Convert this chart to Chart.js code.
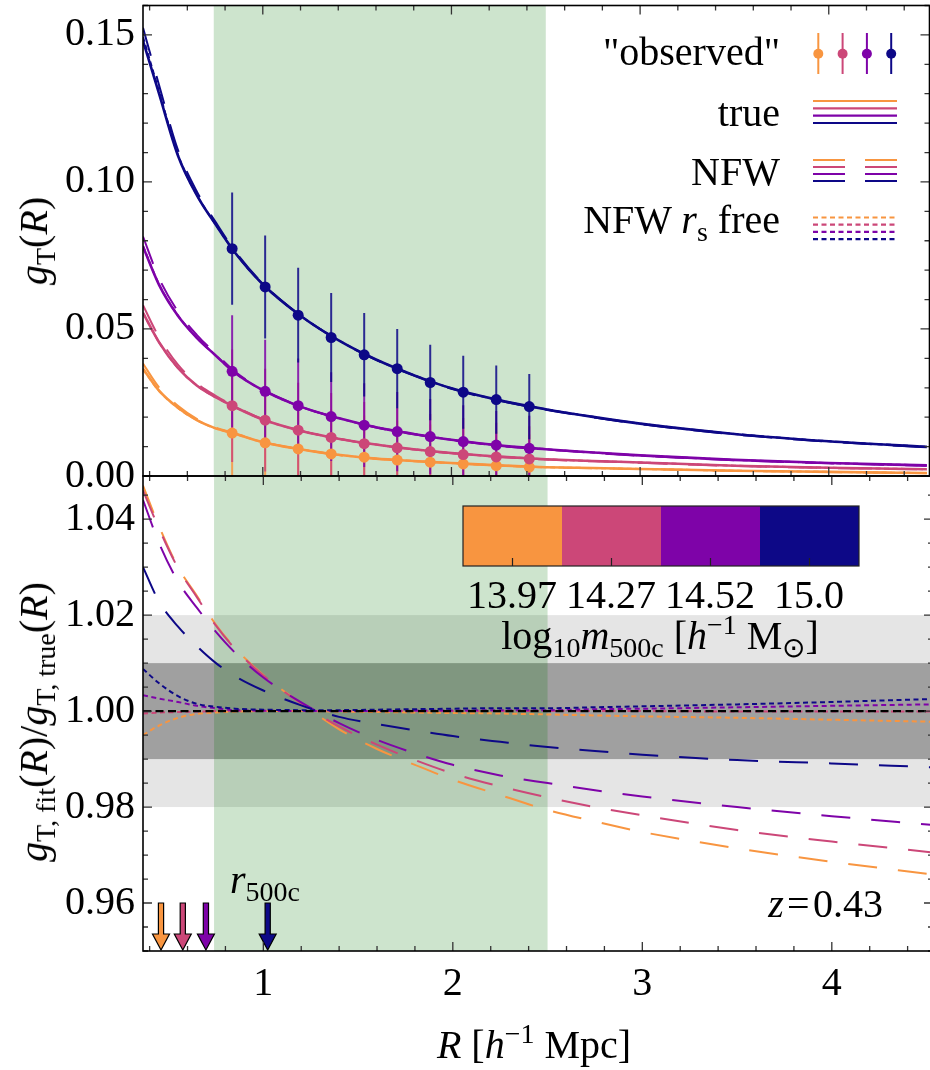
<!DOCTYPE html>
<html>
<head>
<meta charset="utf-8">
<script src="https://cdn.jsdelivr.net/npm/chart.js@4.4.1/dist/chart.umd.min.js"></script>
<style>
html, body { margin: 0; padding: 0; background: #fff; overflow: hidden; }
#wrap { position: relative; width: 930px; height: 1070px; overflow: hidden; }
canvas { position: absolute; left: 0; }
#cTop { top: 0; }
#cBot { top: 470px; }
.t { position: absolute; font-family: "Liberation Serif", "Times New Roman", serif; font-size: 40px;
     line-height: 1; white-space: nowrap; color: #000; z-index: 5; }
.sb { font-size: 0.7em; position: relative; top: 0.3em; }
.sp { font-size: 0.7em; position: relative; top: -0.55em; }
.rot { transform: translate(-50%, -50%) rotate(-90deg); }
.cx { transform: translateX(-50%); }
</style>
</head>
<body>
<div id="wrap">
  <canvas id="cTop" width="935" height="500"></canvas>
  <canvas id="cBot" width="935" height="600"></canvas>

  <div class="t" style="right:150px; top:32px">"observed"</div>
  <div class="t" style="right:150px; top:93px">true</div>
  <div class="t" style="right:150px; top:152px">NFW</div>
  <div class="t" style="right:150px; top:200px">NFW <i>r</i><span class="sb">s</span> free</div>

  <div class="t rot" style="left:34px; top:241px"><i>g</i><span class="sb">T</span>(<i>R</i>)</div>
  <div class="t rot" style="left:34px; top:722px"><i>g</i><span class="sb">T, fit</span>(<i>R</i>)/<i>g</i><span class="sb">T, true</span>(<i>R</i>)</div>
  <div class="t cx" style="left:534px; top:1025px"><i>R</i> [<i>h</i><span class="sp">&minus;1</span> Mpc]</div>

  <div class="t cx" id="cb0" style="left:512px; top:575px"></div>
  <div class="t cx" id="cb1" style="left:611px; top:575px"></div>
  <div class="t cx" id="cb2" style="left:710px; top:575px"></div>
  <div class="t cx" id="cb3" style="left:809px; top:575px"></div>
  <div class="t cx" style="left:660px; top:616px">log<span class="sb">10</span><i>m</i><span class="sb">500c</span> [<i>h</i><span class="sp">&minus;1</span> M<span class="sb">&#8857;</span>]</div>

  <div class="t" style="right:47px; top:884px"><i>z</i>&#8202;=&#8202;0.43</div>
  <div class="t" style="left:230px; top:860px"><i>r</i><span class="sb">500c</span></div>
</div>
<script>
// --- data ---
const massLabels = ['13.97', '14.27', '14.52', '15.0'];
const massColors = ['#f89540', '#cc4778', '#7e03a8', '#0d0887'];

const rGrid = [0.365, 0.45, 0.55, 0.65, 0.75, 0.85, 1.0, 1.2, 1.4, 1.6, 1.8, 2.0, 2.25, 2.5, 2.75, 3.0, 3.5, 4.0, 4.52];

// true g_T(R)
const gTrueOrange = [0.0365, 0.0290, 0.0232, 0.0190, 0.0162, 0.0144, 0.0115, 0.0091, 0.0072, 0.0059, 0.0051, 0.0044, 0.0036, 0.0030, 0.0027, 0.0024, 0.0018, 0.0014, 0.0010];
const gTruePink   = [0.0555, 0.0455, 0.0368, 0.0308, 0.0268, 0.0235, 0.0192, 0.0154, 0.0127, 0.0107, 0.0091, 0.0078, 0.0066, 0.0057, 0.0051, 0.0046, 0.0035, 0.0028, 0.0023];
const gTruePurple = [0.0780, 0.0650, 0.0545, 0.0470, 0.0410, 0.0352, 0.0292, 0.0236, 0.0197, 0.0166, 0.0143, 0.0123, 0.0104, 0.0091, 0.0080, 0.0070, 0.0055, 0.0044, 0.0036];
const gTrueNavy   = [0.1480, 0.1300, 0.1090, 0.0955, 0.0855, 0.0762, 0.0652, 0.0545, 0.0462, 0.0396, 0.0343, 0.0298, 0.0258, 0.0227, 0.0201, 0.0178, 0.0143, 0.0118, 0.0099];

// ratio NFW fit / true
const ratioNfwOrange = [1.0470, 1.0385, 1.0300, 1.0240, 1.0180, 1.0132, 1.0075, 1.0016, 0.9962, 0.9921, 0.9888, 0.9857, 0.9825, 0.9794, 0.9770, 0.9748, 0.9714, 0.9686, 0.9660];
const ratioNfwPink   = [1.0460, 1.0380, 1.0298, 1.0237, 1.0178, 1.0130, 1.0074, 1.0016, 0.9968, 0.9930, 0.9898, 0.9870, 0.9843, 0.9820, 0.9800, 0.9783, 0.9752, 0.9728, 0.9706];
const ratioNfwPurple = [1.0440, 1.0350, 1.0270, 1.0215, 1.0165, 1.0122, 1.0070, 1.0018, 0.9975, 0.9940, 0.9912, 0.9888, 0.9866, 0.9850, 0.9835, 0.9822, 0.9800, 0.9781, 0.9763];
const ratioNfwNavy   = [1.0300, 1.0228, 1.0176, 1.0135, 1.0100, 1.0073, 1.0043, 1.0012, 0.9988, 0.9973, 0.9960, 0.9948, 0.9936, 0.9925, 0.9917, 0.9909, 0.9898, 0.9891, 0.9883];

// ratio NFW (r_s free) fit / true
const ratioFreeOrange = [0.9950, 0.9970, 0.9986, 0.9994, 0.9997, 0.9999, 1.0000, 1.0000, 0.9999, 0.9998, 0.9997, 0.9996, 0.9995, 0.9993, 0.9991, 0.9989, 0.9986, 0.9982, 0.9978];
const ratioFreePink   = [0.9995, 0.9997, 0.9998, 0.9999, 1.0000, 1.0000, 1.0000, 1.0000, 1.0000, 1.0000, 1.0000, 1.0000, 1.0000, 1.0000, 1.0000, 1.0000, 0.9999, 0.9999, 0.9999];
const ratioFreePurple = [1.0033, 1.0026, 1.0019, 1.0011, 1.0006, 1.0002, 1.0001, 1.0000, 1.0000, 1.0000, 1.0001, 1.0001, 1.0002, 1.0002, 1.0004, 1.0005, 1.0008, 1.0011, 1.0014];
const ratioFreeNavy   = [1.0088, 1.0058, 1.0031, 1.0015, 1.0009, 1.0005, 1.0003, 1.0002, 1.0002, 1.0003, 1.0004, 1.0005, 1.0006, 1.0006, 1.0008, 1.0010, 1.0014, 1.0019, 1.0025];

// "observed" stacked profiles
const obsR      = [0.8375, 1.0125, 1.1875, 1.3625, 1.5375, 1.7125, 1.8875, 2.0625, 2.2375, 2.4125];
const obsOrange = [0.0146, 0.0113, 0.0092, 0.0075, 0.0064, 0.0054, 0.0047, 0.0041, 0.0035, 0.0030];
const obsPink   = [0.0239, 0.0190, 0.0156, 0.0131, 0.0110, 0.0096, 0.0083, 0.0073, 0.0065, 0.0058];
const obsPurple = [0.0356, 0.0288, 0.0239, 0.0202, 0.0173, 0.0151, 0.0134, 0.0117, 0.0105, 0.0094];
const obsNavy   = [0.0773, 0.0643, 0.0547, 0.0471, 0.0412, 0.0365, 0.0318, 0.0285, 0.0260, 0.0236];
const obsErr    = [0.0191, 0.0175, 0.0161, 0.0151, 0.0142, 0.0135, 0.0128, 0.0124, 0.0116, 0.0111];

const r500c = [0.46, 0.575, 0.697, 1.023];

const fitRange = [0.74, 2.5];
const band1pc = [0.99, 1.01];
const band2pc = [0.98, 1.02];

const xTicks = [1, 2, 3, 4];
const yTopTicks = [0, 0.05, 0.10, 0.15];
const yBotTicks = [0.96, 0.98, 1.00, 1.02, 1.04];

const X_MIN = 0.365, X_MAX = 4.534;

// -------------------------------------------------
const gTrue = [gTrueOrange, gTruePink, gTruePurple, gTrueNavy];
const ratioNfw = [ratioNfwOrange, ratioNfwPink, ratioNfwPurple, ratioNfwNavy];
const ratioFree = [ratioFreeOrange, ratioFreePink, ratioFreePurple, ratioFreeNavy];
const obsAll = [obsOrange, obsPink, obsPurple, obsNavy];

massLabels.forEach((s, i) => { document.getElementById('cb' + i).textContent = s; });

const SERIF = "'Liberation Serif', 'Times New Roman', serif";
Chart.defaults.font.family = SERIF;
Chart.defaults.color = '#000';

const DASH = [29, 21];
const DOT = [5, 3.5];
const tickFont = { family: SERIF, size: 40 };

const pts = (xs, ys) => xs.map((x, i) => ({ x, y: ys[i] }));
const line = (data, color, dash, width) => ({
  type: 'line', data, borderColor: color, borderWidth: width, borderDash: dash,
  pointRadius: 0, fill: false, cubicInterpolationMode: 'monotone'
});
function withOrder(list) {
  list.forEach((d, i) => { d.order = list.length - i; });
  return list;
}

function addTicks(ctx, a, scale, horizontal, step, majorEvery) {
  const n0 = Math.ceil(scale.min / step - 1e-6), n1 = Math.floor(scale.max / step + 1e-6);
  for (let k = n0; k <= n1; k++) {
    const v = k * step;
    const major = Math.abs(v / majorEvery - Math.round(v / majorEvery)) < 1e-6;
    const len = major ? 9 : 5;
    const p = scale.getPixelForValue(v);
    ctx.beginPath();
    if (horizontal) {
      ctx.moveTo(p, a.bottom); ctx.lineTo(p, a.bottom - len);
      ctx.moveTo(p, a.top); ctx.lineTo(p, a.top + len);
    } else {
      ctx.moveTo(a.left, p); ctx.lineTo(a.left + len, p);
      ctx.moveTo(a.right, p); ctx.lineTo(a.right - len, p);
    }
    ctx.stroke();
  }
}

function framePlugin(yStep, yMajor) {
  return {
    id: 'frame',
    afterDraw(chart) {
      const { ctx, chartArea: a, scales: { x, y } } = chart;
      ctx.save();
      ctx.strokeStyle = '#333';
      ctx.lineWidth = 1.3;
      addTicks(ctx, a, x, true, 0.2, 1);
      addTicks(ctx, a, y, false, yStep, yMajor);
      ctx.strokeStyle = '#000';
      ctx.lineWidth = 1.6;
      ctx.strokeRect(a.left, a.top, a.right - a.left, a.bottom - a.top);
      ctx.restore();
    }
  };
}

function drawFitBand(chart) {
  const { ctx, chartArea: a, scales: { x } } = chart;
  const x0 = x.getPixelForValue(fitRange[0]), x1 = x.getPixelForValue(fitRange[1]);
  ctx.fillStyle = 'rgba(0,117,0,0.196)';
  ctx.fillRect(x0, a.top, x1 - x0, a.bottom - a.top);
}

// ---------------- top panel ----------------
const topSets = [];
gTrue.forEach((g, m) => topSets.push(line(pts(rGrid, g), massColors[m], [], 2.6)));
gTrue.forEach((g, m) => topSets.push(line(pts(rGrid, g.map((v, i) => v * ratioNfw[m][i])), massColors[m], DASH, 2)));
gTrue.forEach((g, m) => topSets.push(line(pts(rGrid, g.map((v, i) => v * ratioFree[m][i])), massColors[m], DOT, 2)));
obsAll.forEach((o, m) => topSets.push({
  type: 'scatter', data: pts(obsR, o), backgroundColor: massColors[m],
  borderWidth: 0, pointRadius: 5.5, showLine: false
}));

const topDecor = {
  id: 'topDecor',
  beforeDatasetsDraw(chart) {
    const { ctx, chartArea: a, scales: { x, y } } = chart;
    ctx.save();
    drawFitBand(chart);
    ctx.beginPath();
    ctx.rect(a.left, a.top, a.right - a.left, a.bottom - a.top);
    ctx.clip();
    ctx.lineWidth = 2;
    obsAll.forEach((o, m) => {
      ctx.strokeStyle = massColors[m];
      ctx.globalAlpha = 0.85;
      o.forEach((v, i) => {
        const px = x.getPixelForValue(obsR[i]);
        ctx.beginPath();
        ctx.moveTo(px, y.getPixelForValue(v + obsErr[i]));
        ctx.lineTo(px, y.getPixelForValue(v - obsErr[i]));
        ctx.stroke();
      });
    });
    ctx.restore();
  },
  afterDraw(chart) {
    // legend symbols
    const ctx = chart.ctx;
    ctx.save();
    massColors.forEach((c, m) => {
      const cx = 818.3 + m * 24.3;
      ctx.strokeStyle = c; ctx.fillStyle = c; ctx.lineWidth = 2;
      ctx.beginPath(); ctx.moveTo(cx, 33); ctx.lineTo(cx, 74); ctx.stroke();
      ctx.beginPath(); ctx.arc(cx, 53.7, 5, 0, Math.PI * 2); ctx.fill();

      ctx.lineWidth = 2.2;
      let yy = 101 + m * 7.33;
      ctx.beginPath(); ctx.moveTo(813, yy); ctx.lineTo(897, yy); ctx.stroke();

      yy = 160 + m * 7;
      ctx.beginPath(); ctx.moveTo(813, yy); ctx.lineTo(845, yy);
      ctx.moveTo(865, yy); ctx.lineTo(897, yy); ctx.stroke();

      yy = 217.5 + m * 7.2;
      ctx.setLineDash(DOT);
      ctx.beginPath(); ctx.moveTo(813, yy); ctx.lineTo(897, yy); ctx.stroke();
      ctx.setLineDash([]);
    });
    ctx.restore();
  }
};

new Chart(document.getElementById('cTop'), {
  type: 'line',
  data: { datasets: withOrder(topSets) },
  options: {
    responsive: false, animation: false, events: [],
    layout: { padding: { top: 3, right: 2, bottom: 24, left: 0 } },
    plugins: { legend: { display: false }, tooltip: { enabled: false } },
    scales: {
      x: { type: 'linear', min: X_MIN, max: X_MAX, display: false },
      y: {
        type: 'linear', min: 0, max: 0.16,
        afterBuildTicks(s) { s.ticks = yTopTicks.map(v => ({ value: v })); },
        afterFit(s) { s.width = 143; s.paddingTop = 0; s.paddingBottom = 0; },
        ticks: { font: tickFont, padding: 8, callback: v => v.toFixed(2) },
        grid: { display: false, drawTicks: false }, border: { display: false }
      }
    }
  },
  plugins: [topDecor, framePlugin(0.01, 0.05)]
});

// ---------------- bottom panel ----------------
const botSets = [];
ratioNfw.forEach((r, m) => botSets.push(line(pts(rGrid, r), massColors[m], DASH, 2)));
ratioFree.forEach((r, m) => botSets.push(line(pts(rGrid, r), massColors[m], DOT, 2)));
botSets.push(line(pts([X_MIN, X_MAX], [1, 1]), '#000', [8, 4.5], 2.2));

const botDecor = {
  id: 'botDecor',
  beforeDatasetsDraw(chart) {
    const { ctx, chartArea: a, scales: { y } } = chart;
    ctx.save();
    const band = (r, col) => {
      const y0 = y.getPixelForValue(r[1]), y1 = y.getPixelForValue(r[0]);
      ctx.fillStyle = col;
      ctx.fillRect(a.left, y0, a.right - a.left, y1 - y0);
    };
    band(band2pc, '#e5e5e5');
    band(band1pc, '#a0a0a0');
    drawFitBand(chart);
    ctx.restore();
  },
  afterDatasetsDraw(chart) {
    const { ctx, chartArea: a, scales: { x, y } } = chart;
    ctx.save();
    // r500c arrows
    r500c.forEach((r, m) => {
      const cx = x.getPixelForValue(r);
      const yTop = y.getPixelForValue(0.96), yTip = a.bottom - 1, headH = 16, sw = 2.6, hw = 8.5;
      ctx.beginPath();
      ctx.moveTo(cx - sw, yTop); ctx.lineTo(cx + sw, yTop);
      ctx.lineTo(cx + sw, yTip - headH); ctx.lineTo(cx + hw, yTip - headH);
      ctx.lineTo(cx, yTip); ctx.lineTo(cx - hw, yTip - headH);
      ctx.lineTo(cx - sw, yTip - headH); ctx.closePath();
      ctx.fillStyle = massColors[m]; ctx.fill();
      ctx.strokeStyle = '#000'; ctx.lineWidth = 1.2; ctx.stroke();
    });
    // colour bar
    const cbL = 463, cbR = 859, cbT = 36, cbB = 96, w = (cbR - cbL) / massColors.length;
    massColors.forEach((c, m) => {
      ctx.fillStyle = c;
      ctx.fillRect(cbL + m * w, cbT, w, cbB - cbT);
    });
    ctx.strokeStyle = '#222'; ctx.lineWidth = 1.2;
    ctx.strokeRect(cbL, cbT, cbR - cbL, cbB - cbT);
    massColors.forEach((c, m) => {
      const tx = cbL + (m + 0.5) * w;
      ctx.beginPath(); ctx.moveTo(tx, cbB); ctx.lineTo(tx, cbB - 8); ctx.stroke();
    });
    ctx.restore();
  }
};

new Chart(document.getElementById('cBot'), {
  type: 'line',
  data: { datasets: withOrder(botSets) },
  options: {
    responsive: false, animation: false, events: [],
    layout: { padding: { top: 6, right: 2, bottom: 0, left: 0 } },
    plugins: { legend: { display: false }, tooltip: { enabled: false } },
    scales: {
      x: {
        type: 'linear', min: X_MIN, max: X_MAX,
        afterBuildTicks(s) { s.ticks = xTicks.map(v => ({ value: v })); },
        afterFit(s) { s.height = 119; s.paddingLeft = 0; s.paddingRight = 0; },
        ticks: { font: tickFont, padding: 9, maxRotation: 0, callback: v => String(v) },
        grid: { display: false, drawTicks: false }, border: { display: false }
      },
      y: {
        type: 'linear', min: 0.95, max: 1.049,
        afterBuildTicks(s) { s.ticks = yBotTicks.map(v => ({ value: v })); },
        afterFit(s) { s.width = 143; s.paddingTop = 0; s.paddingBottom = 0; },
        ticks: { font: tickFont, padding: 8, callback: v => v.toFixed(2) },
        grid: { display: false, drawTicks: false }, border: { display: false }
      }
    }
  },
  plugins: [botDecor, framePlugin(0.005, 0.02)]
});
</script>
</body>
</html>
